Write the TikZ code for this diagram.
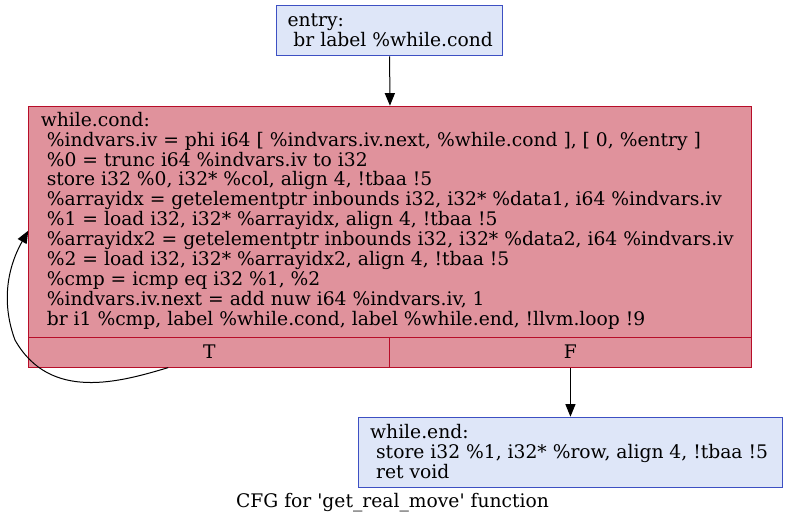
\documentclass[tikz,border=0pt]{standalone}
\usepackage{fontspec}
\setmainfont{DejaVu Serif}
\usetikzlibrary{arrows.meta,calc}
\definecolor{bfill}{HTML}{DEE6F8}
\definecolor{bdraw}{HTML}{3D50C3}
\definecolor{rfill}{HTML}{E0929C}
\definecolor{rdraw}{HTML}{B70D28}
\newcommand{\topstrut}{\vrule height 16pt depth 0pt width 0pt}
\tikzset{
  blue box/.style={draw=bdraw,fill=bfill,line width=0.9pt,inner sep=0,anchor=north west},
  red box/.style={draw=rdraw,fill=rfill,line width=0.9pt,inner sep=0,anchor=north west},
  code/.style={align=left,inner sep=0,anchor=north west,font=\fontsize{18.7}{19.9}\selectfont},
  port/.style={inner sep=0,font=\fontsize{18.7}{19.9}\selectfont},
  edge/.style={line width=1pt,-{Triangle[length=12.5pt,width=10pt]}},
}
\begin{document}
\begin{tikzpicture}[x=1pt,y=-1pt]
\useasboundingbox (0,0) rectangle (787,524);
% entry
\node[blue box,minimum width=226.3pt,minimum height=50pt] (entry) at (276,5.5) {};
\node[code] (entrytxt) at (287.3,{26.7-16}) {\topstrut entry:\\\ br label \%while.cond};
% while.cond
\node[red box,minimum width=361pt,minimum height=30pt] (Tcell) at (28.3,336.7) {};
\node[red box,minimum width=361.4pt,minimum height=30pt] (Fcell) at (389.3,336.7) {};
\node[red box,minimum width=722.4pt,minimum height=231pt] (cond) at (28.3,105.7) {};
\node[code] (condtxt) at (40.7,{126-16}) {\topstrut while.cond:\\
\ \%indvars.iv = phi i64 [ \%indvars.iv.next, \%while.cond ], [ 0, \%entry ]\\
\ \%0 = trunc i64 \%indvars.iv to i32\\
\ store i32 \%0, i32* \%col, align 4, !tbaa !5\\
\ \%arrayidx = getelementptr inbounds i32, i32* \%data1, i64 \%indvars.iv\\
\ \%1 = load i32, i32* \%arrayidx, align 4, !tbaa !5\\
\ \%arrayidx2 = getelementptr inbounds i32, i32* \%data2, i64 \%indvars.iv\\
\ \%2 = load i32, i32* \%arrayidx2, align 4, !tbaa !5\\
\ \%cmp = icmp eq i32 \%1, \%2\\
\ \%indvars.iv.next = add nuw i64 \%indvars.iv, 1\\
\ br i1 \%cmp, label \%while.cond, label \%while.end, !llvm.loop !9};
\node[port,anchor=base] (T) at ($(Tcell.center)+(0,6.5)$) {T};
\node[port,anchor=base] (F) at ($(Fcell.center)+(0,6.5)$) {F};
% while.end
\node[blue box,minimum width=423.4pt,minimum height=70pt] (wend) at (358.3,416.7) {};
\node[code] (wendtxt) at (370,{438.3-16}) {\topstrut while.end:\\
\ store i32 \%1, i32* \%row, align 4, !tbaa !5\\
\ ret void};
% caption
\node[port,anchor=base] (caption) at (392.5,507) {CFG for \textquotesingle get\_real\_move\textquotesingle\ function};
% edges
\draw[edge] (entry.south) -- (cond.north);
\draw[edge] (Fcell.south) -- (wend.north);
\coordinate (loopstart) at ($(Tcell.south)+(-41,0)$);
\coordinate (loopend) at ($(cond.west)+(0,9)$);
\draw[edge] (loopstart) .. controls (120,382) and (50,402) .. (15,340)
  .. controls (2,305) and (6,270) .. (loopend);
\end{tikzpicture}
\end{document}
